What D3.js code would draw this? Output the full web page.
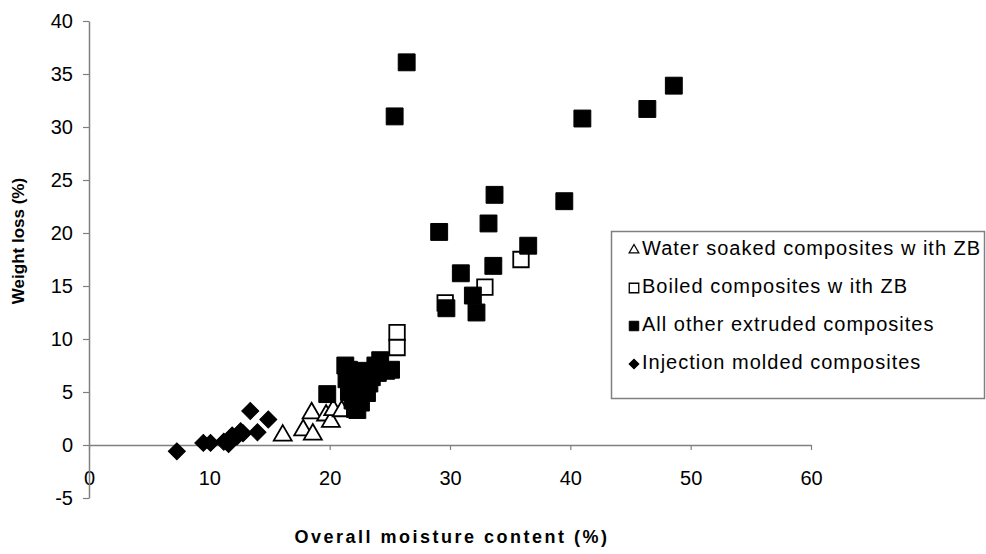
<!DOCTYPE html>
<html>
<head>
<meta charset="utf-8">
<script src="https://cdn.jsdelivr.net/npm/d3@7"></script>
<style>
  body { margin: 0; background: #fff; }
  text { font-family: Arial, "Liberation Sans", sans-serif; fill: #000; }
</style>
</head>
<body>
<div id="chart"></div>
<script>
// data: [moisture %, weight loss %]
const waterSoaked = [[16.1, 0.9], [17.8, 1.4], [18.5, 3.0], [18.6, 1.0], [19.7, 2.8],
  [20.1, 2.2], [20.3, 3.3], [21.0, 3.2]];
const boiled = [[25.6, 10.6], [25.6, 9.2], [29.6, 13.4], [32.9, 14.9], [35.9, 17.5]];
const extruded = [[26.4, 36.1], [25.4, 31.0], [33.7, 23.6], [33.2, 20.9], [29.1, 20.1],
  [30.9, 16.2], [33.6, 16.9], [36.5, 18.8], [31.9, 14.1], [29.7, 12.9], [32.2, 12.5],
  [41.0, 30.8], [46.4, 31.7], [48.6, 33.9], [39.5, 23.0],
  [19.8, 4.8], [21.3, 7.5], [21.4, 6.2], [21.6, 5.0], [21.9, 4.2], [22.1, 3.4], [22.3, 3.3],
  [22.0, 6.8], [22.5, 5.5], [22.8, 6.5], [23.0, 7.0], [23.1, 4.9], [23.3, 5.8], [23.5, 6.4],
  [23.8, 7.5], [24.2, 8.0], [24.0, 6.8], [24.7, 7.0], [22.4, 4.6], [21.6, 7.1], [22.6, 4.0],
  [25.1, 7.1]];
const injection = [[7.3, -0.6], [9.5, 0.2], [10.1, 0.2], [11.2, 0.3], [11.6, 0.1], [11.9, 0.9],
  [12.3, 0.8], [12.6, 1.3], [12.8, 1.1], [13.4, 3.2], [14.0, 1.2], [14.9, 2.4]];

const xTicks = [0, 10, 20, 30, 40, 50, 60];
const yTicks = [-5, 0, 5, 10, 15, 20, 25, 30, 35, 40];
const legendLabels = ["Water soaked composites w ith ZB", "Boiled composites w ith ZB",
  "All other extruded composites", "Injection molded composites"];

// set the dimensions and margins of the graph
const W = 986, H = 554;
const margin = {top: 21, left: 89},
  width = 722, height = 477;

const svg = d3.select("#chart")
  .append("svg")
  .attr("width", W)
  .attr("height", H);

const x = d3.scaleLinear().domain([0, 60]).range([margin.left, margin.left + width]);
const y = d3.scaleLinear().domain([-5, 40]).range([margin.top + height, margin.top]);

const axisColor = "#808080";
const plain = d => String(d); // keep the ascii hyphen for -5

// X axis, crossing at y = 0
const gx = svg.append("g")
  .attr("transform", `translate(0,${y(0)})`)
  .call(d3.axisBottom(x).tickValues(xTicks).tickFormat(plain)
    .tickSize(5).tickPadding(21).tickSizeOuter(0));

// Y axis
const gy = svg.append("g")
  .attr("transform", `translate(${x(0)},0)`)
  .call(d3.axisLeft(y).tickValues(yTicks).tickFormat(plain)
    .tickSize(6).tickPadding(10).tickSizeOuter(0));

[gx, gy].forEach(g => {
  g.selectAll("path.domain").attr("stroke", axisColor).attr("stroke-width", 1.5);
  g.selectAll(".tick line").attr("stroke", axisColor).attr("stroke-width", 1.2);
  g.selectAll(".tick text")
    .style("font-family", "Arial, 'Liberation Sans', sans-serif")
    .style("font-size", "20px")
    .attr("fill", "#000");
});

// axis titles
svg.append("text")
  .attr("x", x(30) + 2)
  .attr("y", 543)
  .attr("text-anchor", "middle")
  .style("font-size", "18px")
  .style("font-weight", "bold")
  .style("letter-spacing", "2.5px")
  .text("Overall moisture content (%)");

svg.append("text")
  .attr("transform", `translate(24,241) rotate(-90)`)
  .attr("text-anchor", "middle")
  .style("font-size", "17px")
  .style("font-weight", "bold")
  .text("Weight loss (%)");

// marker shapes
const triangle = d3.symbol().type(d3.symbolTriangle);
const square = d3.symbol().type(d3.symbolSquare);

function drawSeries(data, kind, big) {
  const g = svg.append("g");
  g.selectAll("path")
    .data(data)
    .enter()
    .append("path")
    .attr("transform", d => `translate(${x(d[0])},${y(d[1])})` + (kind === "diamond" ? " rotate(45)" : ""))
    .attr("d", d => markerPath(kind, big))
    .call(styleMarker, kind);
}

function markerPath(kind, big) {
  if (kind === "triangle") return triangle.size(big ? 140 : 40)();
  if (kind === "diamond") return square.size(big ? 145 : 48)();
  return square.size(big ? (kind === "open" ? 240 : 285) : 90)();
}

function styleMarker(sel, kind) {
  if (kind === "triangle" || kind === "open") {
    sel.attr("fill", "#fff").attr("stroke", "#000").attr("stroke-width", 1.8);
  } else {
    sel.attr("fill", "#000").attr("stroke", "#000").attr("stroke-width", 1);
  }
}

drawSeries(waterSoaked, "triangle", true);
drawSeries(boiled, "open", true);
drawSeries(extruded, "filled", true);
drawSeries(injection, "diamond", true);

// legend
const legend = svg.append("g");
legend.append("rect")
  .attr("x", 611.5).attr("y", 231.5)
  .attr("width", 373).attr("height", 167)
  .attr("fill", "#fff")
  .attr("stroke", axisColor)
  .attr("stroke-width", 1.5);

const kinds = ["triangle", "open", "filled", "diamond"];
legendLabels.forEach((label, i) => {
  const cy = 248 + i * 38;
  legend.append("path")
    .attr("transform", `translate(634,${cy + 2})` + (kinds[i] === "diamond" ? " rotate(45)" : ""))
    .attr("d", markerPath(kinds[i], false))
    .call(styleMarker, kinds[i])
    .attr("stroke-width", kinds[i] === "filled" || kinds[i] === "diamond" ? 1 : 1.3);
  legend.append("text")
    .attr("x", 642)
    .attr("y", cy)
    .attr("dy", "0.35em")
    .style("font-size", "20px")
    .style("letter-spacing", "1px")
    .text(label);
});
</script>
</body>
</html>
